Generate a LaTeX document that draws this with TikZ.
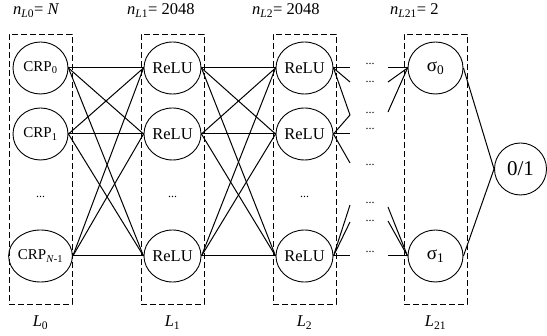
\documentclass[tikz,border=0pt]{standalone}
\usepackage{fontspec}
\setmainfont{Liberation Serif}
\usetikzlibrary{shapes.geometric}
\begin{document}
\begin{tikzpicture}[x=1pt,y=-1pt,
  neuron/.style={ellipse, draw, line width=0.9pt, minimum width=55pt, minimum height=52pt, inner sep=0pt, font=\fontsize{16.5}{18}\selectfont},
  layerbox/.style={draw, dash pattern=on 6pt off 3pt, line width=0.9pt, minimum width=63pt, minimum height=270pt, inner sep=0pt},
  conn/.style={line width=1pt},
  dotsl/.style={anchor=base, font=\fontsize{12}{14}\selectfont, inner sep=0pt},
  lbl/.style={font=\fontsize{16.5}{18}\selectfont, inner sep=0pt, anchor=base west},
  blbl/.style={font=\fontsize{16.5}{18}\selectfont, inner sep=0pt, anchor=base}]
\useasboundingbox (0,0) rectangle (547,336);
% layer boxes
\node[layerbox] (B0) at (40.5,169) {};
\node[layerbox] (B1) at (172.5,169) {};
\node[layerbox] (B2) at (304.5,169) {};
\node[layerbox] (B3) at (435.5,169) {};
% top labels
\node[lbl] (t0) at (13,15) {\textit{n}\textsubscript{\textit{L}0}= \textit{N}};
\node[lbl] (t1) at (127,15) {\textit{n}\textsubscript{\textit{L}1}= 2048};
\node[lbl] (t2) at (252,15) {\textit{n}\textsubscript{\textit{L}2}= 2048};
\node[lbl] (t3) at (390,15) {\textit{n}\textsubscript{\textit{L}21}= 2};
% bottom labels
\node[blbl] (l0) at (40.5,327) {\textit{L}\textsubscript{0}};
\node[blbl] (l1) at (172.5,327) {\textit{L}\textsubscript{1}};
\node[blbl] (l2) at (304.5,327) {\textit{L}\textsubscript{2}};
\node[blbl] (l3) at (435.5,327) {\textit{L}\textsubscript{21}};
% layer 0
\node[neuron, font=\fontsize{15}{17}\selectfont] (a0) at (40.5,68) {CRP\textsubscript{0}};
\node[neuron, font=\fontsize{15}{17}\selectfont] (a1) at (40.5,134) {CRP\textsubscript{1}};
\node[neuron, font=\fontsize{15}{17}\selectfont] (a2) at (40.5,256) {CRP\textsubscript{\textit{N}-1}};
% layer 1
\node[neuron] (b0) at (172.5,68) {ReLU};
\node[neuron] (b1) at (172.5,134) {ReLU};
\node[neuron] (b2) at (172.5,256) {ReLU};
% layer 2
\node[neuron] (c0) at (304.5,68) {ReLU};
\node[neuron] (c1) at (304.5,134) {ReLU};
\node[neuron] (c2) at (304.5,256) {ReLU};
% layer 21
\node[neuron, font=\fontsize{19}{21}\selectfont] (s0) at (435.5,68) {σ\textsubscript{0}};
\node[neuron, font=\fontsize{19}{21}\selectfont] (s1) at (435.5,256) {σ\textsubscript{1}};
% output
\node[neuron, minimum width=52pt, font=\fontsize{21}{23}\selectfont] (o) at (520.5,169) {0/1};
% column dots
\node[dotsl] (d0) at (40.5,198) {...};
\node[dotsl] (d1) at (172.5,198) {...};
\node[dotsl] (d2) at (304.5,198) {...};
% middle dots
\node[dotsl] (m1) at (370,65) {...};
\node[dotsl] (m2) at (370,83) {...};
\node[dotsl] (m3) at (370,114) {...};
\node[dotsl] (m4) at (370,130) {...};
\node[dotsl] (m5) at (370,166) {...};
\node[dotsl] (m6) at (370,204) {...};
\node[dotsl] (m7) at (370,222) {...};
\node[dotsl] (m8) at (370,253) {...};
% full connections
\foreach \i in {0,1,2}{
  \foreach \j in {0,1,2}{
    \draw[conn] (a\i.east) -- (b\j.west);
    \draw[conn] (b\i.east) -- (c\j.west);
  }
}
% stubs out of layer 2
\coordinate (p0) at (350,68);
\coordinate (p1) at (350,82);
\coordinate (p2) at (350,115);
\coordinate (p3) at (350,134);
\coordinate (p4) at (350,163);
\coordinate (p5) at (350,256);
\coordinate (p6) at (350,205);
\coordinate (p7) at (350,222);
\draw[conn] (c0.east) -- (p0);
\draw[conn] (c0.east) -- (p1);
\draw[conn] (c0.east) -- (p2);
\draw[conn] (c1.east) -- (p3);
\draw[conn] (c1.east) -- (p2);
\draw[conn] (c1.east) -- (p4);
\draw[conn] (c2.east) -- (p5);
\draw[conn] (c2.east) -- (p6);
\draw[conn] (c2.east) -- (p7);
% stubs into layer 21
\coordinate (q0) at (388,68);
\coordinate (q1) at (388,82);
\coordinate (q2) at (388,112);
\coordinate (q3) at (388,256);
\coordinate (q4) at (388,207);
\coordinate (q5) at (388,221);
\draw[conn] (q0) -- (s0.west);
\draw[conn] (q1) -- (s0.west);
\draw[conn] (q2) -- (s0.west);
\draw[conn] (q3) -- (s1.west);
\draw[conn] (q4) -- (s1.west);
\draw[conn] (q5) -- (s1.west);
% to output
\draw[conn] (s0.east) -- (o.west);
\draw[conn] (s1.east) -- (o.west);
\end{tikzpicture}
\end{document}
